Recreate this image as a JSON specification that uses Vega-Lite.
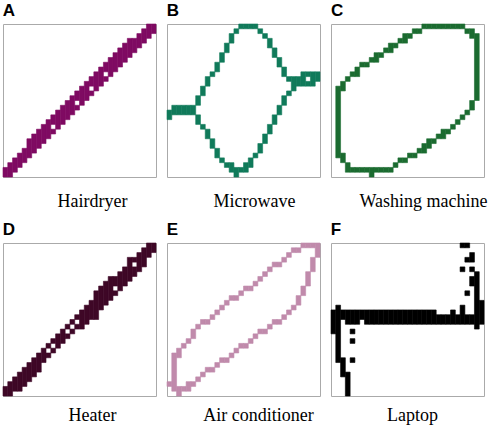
{
"$schema": "https://vega.github.io/schema/vega-lite/v6.json",
"padding": {"left": 2, "top": 1, "right": 0, "bottom": 0},
"bounds": "flush",
"columns": 3,
"spacing": {"row": 66, "column": 11},
"config": {"view": {"stroke": "#aaaaaa", "strokeWidth": 1}, "title": {"anchor": "start", "font": "Liberation Sans", "fontSize": 17, "fontWeight": "bold", "color": "black", "baseline": "alphabetic", "offset": 4}},
"datasets": {"cells": [
{"p":"A","c":0,"a":30,"b":32},{"p":"A","c":1,"a":29,"b":32},{"p":"A","c":2,"a":28,"b":31},{"p":"A","c":3,"a":27,"b":30},{"p":"A","c":4,"a":26,"b":29},{"p":"A","c":5,"a":24,"b":28},{"p":"A","c":6,"a":23,"b":27},{"p":"A","c":7,"a":22,"b":26},{"p":"A","c":8,"a":21,"b":25},{"p":"A","c":9,"a":20,"b":24},{"p":"A","c":10,"a":19,"b":21},{"p":"A","c":10,"a":22,"b":23},{"p":"A","c":11,"a":18,"b":22},{"p":"A","c":12,"a":17,"b":21},{"p":"A","c":13,"a":16,"b":20},{"p":"A","c":14,"a":15,"b":19},{"p":"A","c":15,"a":14,"b":16},{"p":"A","c":15,"a":17,"b":18},{"p":"A","c":16,"a":13,"b":17},{"p":"A","c":17,"a":12,"b":16},{"p":"A","c":18,"a":11,"b":13},{"p":"A","c":18,"a":14,"b":15},{"p":"A","c":19,"a":10,"b":14},{"p":"A","c":20,"a":9,"b":13},{"p":"A","c":21,"a":8,"b":10},{"p":"A","c":21,"a":11,"b":12},{"p":"A","c":22,"a":7,"b":11},{"p":"A","c":23,"a":6,"b":10},{"p":"A","c":24,"a":5,"b":9},{"p":"A","c":25,"a":4,"b":8},{"p":"A","c":26,"a":3,"b":7},{"p":"A","c":27,"a":3,"b":6},{"p":"A","c":28,"a":2,"b":5},{"p":"A","c":29,"a":1,"b":4},{"p":"A","c":30,"a":0,"b":3},{"p":"A","c":31,"a":0,"b":2},
{"p":"B","c":0,"a":18,"b":20},{"p":"B","c":1,"a":17,"b":19},{"p":"B","c":2,"a":17,"b":19},{"p":"B","c":3,"a":17,"b":19},{"p":"B","c":4,"a":17,"b":19},{"p":"B","c":5,"a":17,"b":19},{"p":"B","c":6,"a":15,"b":17},{"p":"B","c":6,"a":19,"b":21},{"p":"B","c":7,"a":13,"b":15},{"p":"B","c":7,"a":21,"b":22},{"p":"B","c":8,"a":11,"b":13},{"p":"B","c":8,"a":22,"b":24},{"p":"B","c":9,"a":10,"b":11},{"p":"B","c":9,"a":24,"b":26},{"p":"B","c":10,"a":8,"b":10},{"p":"B","c":10,"a":26,"b":28},{"p":"B","c":11,"a":6,"b":8},{"p":"B","c":11,"a":28,"b":29},{"p":"B","c":12,"a":4,"b":6},{"p":"B","c":12,"a":29,"b":30},{"p":"B","c":13,"a":2,"b":4},{"p":"B","c":13,"a":29,"b":31},{"p":"B","c":14,"a":1,"b":2},{"p":"B","c":14,"a":30,"b":32},{"p":"B","c":15,"a":0,"b":1},{"p":"B","c":15,"a":30,"b":31},{"p":"B","c":16,"a":0,"b":1},{"p":"B","c":16,"a":29,"b":31},{"p":"B","c":17,"a":0,"b":1},{"p":"B","c":17,"a":28,"b":30},{"p":"B","c":18,"a":0,"b":1},{"p":"B","c":18,"a":27,"b":28},{"p":"B","c":19,"a":1,"b":2},{"p":"B","c":19,"a":25,"b":27},{"p":"B","c":20,"a":2,"b":3},{"p":"B","c":20,"a":23,"b":25},{"p":"B","c":21,"a":3,"b":5},{"p":"B","c":21,"a":21,"b":23},{"p":"B","c":22,"a":5,"b":7},{"p":"B","c":22,"a":19,"b":21},{"p":"B","c":23,"a":7,"b":9},{"p":"B","c":23,"a":17,"b":19},{"p":"B","c":24,"a":9,"b":11},{"p":"B","c":24,"a":15,"b":17},{"p":"B","c":25,"a":11,"b":12},{"p":"B","c":25,"a":14,"b":15},{"p":"B","c":26,"a":11,"b":14},{"p":"B","c":27,"a":11,"b":13},{"p":"B","c":28,"a":10,"b":13},{"p":"B","c":29,"a":10,"b":11},{"p":"B","c":29,"a":12,"b":13},{"p":"B","c":30,"a":10,"b":13},{"p":"B","c":31,"a":10,"b":12},
{"p":"C","c":1,"a":13,"b":28},{"p":"C","c":2,"a":12,"b":14},{"p":"C","c":2,"a":27,"b":29},{"p":"C","c":3,"a":11,"b":12},{"p":"C","c":3,"a":29,"b":31},{"p":"C","c":4,"a":10,"b":11},{"p":"C","c":4,"a":30,"b":31},{"p":"C","c":5,"a":9,"b":11},{"p":"C","c":5,"a":30,"b":31},{"p":"C","c":6,"a":8,"b":9},{"p":"C","c":6,"a":30,"b":31},{"p":"C","c":7,"a":8,"b":9},{"p":"C","c":7,"a":30,"b":31},{"p":"C","c":8,"a":7,"b":8},{"p":"C","c":8,"a":30,"b":32},{"p":"C","c":9,"a":6,"b":8},{"p":"C","c":9,"a":30,"b":31},{"p":"C","c":10,"a":6,"b":7},{"p":"C","c":10,"a":30,"b":31},{"p":"C","c":11,"a":5,"b":6},{"p":"C","c":11,"a":30,"b":31},{"p":"C","c":12,"a":4,"b":6},{"p":"C","c":12,"a":30,"b":31},{"p":"C","c":13,"a":4,"b":5},{"p":"C","c":13,"a":29,"b":30},{"p":"C","c":14,"a":3,"b":4},{"p":"C","c":14,"a":28,"b":29},{"p":"C","c":15,"a":2,"b":4},{"p":"C","c":15,"a":28,"b":29},{"p":"C","c":16,"a":2,"b":3},{"p":"C","c":16,"a":27,"b":28},{"p":"C","c":17,"a":1,"b":2},{"p":"C","c":17,"a":27,"b":28},{"p":"C","c":18,"a":1,"b":2},{"p":"C","c":18,"a":26,"b":27},{"p":"C","c":19,"a":0,"b":1},{"p":"C","c":19,"a":25,"b":27},{"p":"C","c":20,"a":0,"b":1},{"p":"C","c":20,"a":24,"b":26},{"p":"C","c":21,"a":0,"b":1},{"p":"C","c":21,"a":24,"b":25},{"p":"C","c":22,"a":0,"b":1},{"p":"C","c":22,"a":23,"b":24},{"p":"C","c":23,"a":0,"b":1},{"p":"C","c":23,"a":22,"b":24},{"p":"C","c":24,"a":0,"b":1},{"p":"C","c":24,"a":22,"b":23},{"p":"C","c":25,"a":0,"b":1},{"p":"C","c":25,"a":21,"b":22},{"p":"C","c":26,"a":0,"b":1},{"p":"C","c":26,"a":20,"b":21},{"p":"C","c":27,"a":0,"b":1},{"p":"C","c":27,"a":19,"b":20},{"p":"C","c":28,"a":1,"b":2},{"p":"C","c":28,"a":18,"b":19},{"p":"C","c":29,"a":1,"b":3},{"p":"C","c":29,"a":16,"b":18},{"p":"C","c":30,"a":2,"b":16},
{"p":"D","c":0,"a":30,"b":32},{"p":"D","c":1,"a":29,"b":32},{"p":"D","c":2,"a":28,"b":31},{"p":"D","c":3,"a":27,"b":31},{"p":"D","c":4,"a":26,"b":30},{"p":"D","c":5,"a":25,"b":29},{"p":"D","c":6,"a":24,"b":28},{"p":"D","c":7,"a":23,"b":27},{"p":"D","c":8,"a":22,"b":25},{"p":"D","c":9,"a":21,"b":22},{"p":"D","c":9,"a":23,"b":24},{"p":"D","c":10,"a":20,"b":21},{"p":"D","c":10,"a":22,"b":23},{"p":"D","c":11,"a":19,"b":22},{"p":"D","c":12,"a":18,"b":21},{"p":"D","c":13,"a":17,"b":18},{"p":"D","c":13,"a":19,"b":20},{"p":"D","c":14,"a":16,"b":17},{"p":"D","c":14,"a":18,"b":19},{"p":"D","c":15,"a":15,"b":16},{"p":"D","c":15,"a":17,"b":18},{"p":"D","c":16,"a":14,"b":18},{"p":"D","c":17,"a":13,"b":17},{"p":"D","c":18,"a":12,"b":16},{"p":"D","c":19,"a":10,"b":16},{"p":"D","c":20,"a":9,"b":14},{"p":"D","c":21,"a":8,"b":13},{"p":"D","c":22,"a":7,"b":12},{"p":"D","c":23,"a":7,"b":9},{"p":"D","c":23,"a":10,"b":11},{"p":"D","c":24,"a":6,"b":10},{"p":"D","c":25,"a":5,"b":9},{"p":"D","c":26,"a":3,"b":8},{"p":"D","c":27,"a":3,"b":4},{"p":"D","c":27,"a":5,"b":7},{"p":"D","c":28,"a":2,"b":6},{"p":"D","c":29,"a":1,"b":5},{"p":"D","c":30,"a":0,"b":3},{"p":"D","c":31,"a":0,"b":2},
{"p":"E","c":0,"a":29,"b":30},{"p":"E","c":1,"a":23,"b":31},{"p":"E","c":2,"a":22,"b":24},{"p":"E","c":2,"a":30,"b":32},{"p":"E","c":3,"a":21,"b":22},{"p":"E","c":3,"a":30,"b":31},{"p":"E","c":4,"a":20,"b":21},{"p":"E","c":4,"a":29,"b":31},{"p":"E","c":5,"a":18,"b":20},{"p":"E","c":5,"a":29,"b":30},{"p":"E","c":6,"a":17,"b":18},{"p":"E","c":6,"a":28,"b":29},{"p":"E","c":7,"a":16,"b":17},{"p":"E","c":7,"a":27,"b":28},{"p":"E","c":8,"a":16,"b":17},{"p":"E","c":8,"a":26,"b":27},{"p":"E","c":9,"a":15,"b":16},{"p":"E","c":9,"a":26,"b":27},{"p":"E","c":10,"a":14,"b":15},{"p":"E","c":10,"a":25,"b":26},{"p":"E","c":11,"a":13,"b":14},{"p":"E","c":11,"a":24,"b":25},{"p":"E","c":12,"a":12,"b":13},{"p":"E","c":12,"a":24,"b":25},{"p":"E","c":13,"a":11,"b":12},{"p":"E","c":13,"a":23,"b":24},{"p":"E","c":14,"a":11,"b":12},{"p":"E","c":14,"a":22,"b":23},{"p":"E","c":15,"a":10,"b":11},{"p":"E","c":15,"a":21,"b":22},{"p":"E","c":16,"a":9,"b":10},{"p":"E","c":16,"a":21,"b":22},{"p":"E","c":17,"a":9,"b":10},{"p":"E","c":17,"a":20,"b":21},{"p":"E","c":18,"a":8,"b":9},{"p":"E","c":18,"a":19,"b":20},{"p":"E","c":19,"a":7,"b":8},{"p":"E","c":19,"a":18,"b":19},{"p":"E","c":20,"a":6,"b":7},{"p":"E","c":20,"a":18,"b":19},{"p":"E","c":21,"a":5,"b":6},{"p":"E","c":21,"a":17,"b":18},{"p":"E","c":22,"a":4,"b":5},{"p":"E","c":22,"a":16,"b":17},{"p":"E","c":23,"a":4,"b":5},{"p":"E","c":23,"a":16,"b":17},{"p":"E","c":24,"a":3,"b":4},{"p":"E","c":24,"a":15,"b":16},{"p":"E","c":25,"a":2,"b":3},{"p":"E","c":25,"a":14,"b":15},{"p":"E","c":26,"a":1,"b":2},{"p":"E","c":26,"a":13,"b":14},{"p":"E","c":27,"a":1,"b":2},{"p":"E","c":27,"a":11,"b":13},{"p":"E","c":28,"a":0,"b":1},{"p":"E","c":28,"a":9,"b":11},{"p":"E","c":29,"a":0,"b":1},{"p":"E","c":29,"a":6,"b":9},{"p":"E","c":30,"a":0,"b":1},{"p":"E","c":30,"a":3,"b":6},{"p":"E","c":31,"a":0,"b":3},
{"p":"F","c":0,"a":14,"b":19},{"p":"F","c":1,"a":13,"b":25},{"p":"F","c":2,"a":14,"b":16},{"p":"F","c":2,"a":24,"b":28},{"p":"F","c":3,"a":14,"b":17},{"p":"F","c":3,"a":27,"b":32},{"p":"F","c":4,"a":14,"b":17},{"p":"F","c":4,"a":18,"b":19},{"p":"F","c":4,"a":20,"b":21},{"p":"F","c":4,"a":24,"b":25},{"p":"F","c":5,"a":14,"b":17},{"p":"F","c":6,"a":14,"b":16},{"p":"F","c":7,"a":14,"b":17},{"p":"F","c":8,"a":14,"b":17},{"p":"F","c":9,"a":14,"b":17},{"p":"F","c":10,"a":14,"b":17},{"p":"F","c":11,"a":14,"b":17},{"p":"F","c":12,"a":14,"b":17},{"p":"F","c":13,"a":14,"b":17},{"p":"F","c":14,"a":14,"b":17},{"p":"F","c":15,"a":14,"b":17},{"p":"F","c":16,"a":14,"b":17},{"p":"F","c":17,"a":14,"b":17},{"p":"F","c":18,"a":14,"b":17},{"p":"F","c":19,"a":14,"b":17},{"p":"F","c":20,"a":14,"b":17},{"p":"F","c":21,"a":14,"b":17},{"p":"F","c":22,"a":15,"b":17},{"p":"F","c":23,"a":15,"b":17},{"p":"F","c":24,"a":15,"b":17},{"p":"F","c":25,"a":14,"b":17},{"p":"F","c":26,"a":15,"b":17},{"p":"F","c":27,"a":0,"b":1},{"p":"F","c":27,"a":5,"b":6},{"p":"F","c":27,"a":13,"b":17},{"p":"F","c":28,"a":0,"b":1},{"p":"F","c":28,"a":3,"b":4},{"p":"F","c":28,"a":10,"b":11},{"p":"F","c":28,"a":15,"b":17},{"p":"F","c":29,"a":2,"b":4},{"p":"F","c":29,"a":5,"b":6},{"p":"F","c":29,"a":7,"b":9},{"p":"F","c":29,"a":15,"b":17},{"p":"F","c":30,"a":6,"b":18},{"p":"F","c":31,"a":12,"b":17}
]},
"concat": [
{"title": "A", "width": 153, "height": 153, "data": {"name": "cells"}, "transform": [{"filter": "datum.p === 'A'"}], "mark": {"type": "rect", "color": "#7f0a62", "stroke": "#7f0a62", "strokeWidth": 0.6},
 "encoding": {"x": {"field": "c", "type": "ordinal", "scale": {"domain": [0,1,2,3,4,5,6,7,8,9,10,11,12,13,14,15,16,17,18,19,20,21,22,23,24,25,26,27,28,29,30,31], "paddingInner": 0, "paddingOuter": 0}, "axis": {"domain": false, "ticks": false, "labels": false, "title": "Hairdryer", "titleFont": "Liberation Serif", "titleFontSize": 18, "titleFontWeight": "normal", "titleColor": "black", "titleX": 89, "titleY": 29, "titleBaseline": "alphabetic", "titleAlign": "center"}},
  "y": {"field": "a", "type": "quantitative", "scale": {"domain": [0, 32], "reverse": true, "nice": false, "zero": false}, "axis": null}, "y2": {"field": "b"}}},
{"title": "B", "width": 153, "height": 153, "data": {"name": "cells"}, "transform": [{"filter": "datum.p === 'B'"}], "mark": {"type": "rect", "color": "#107a5a", "stroke": "#107a5a", "strokeWidth": 0.6},
 "encoding": {"x": {"field": "c", "type": "ordinal", "scale": {"domain": [0,1,2,3,4,5,6,7,8,9,10,11,12,13,14,15,16,17,18,19,20,21,22,23,24,25,26,27,28,29,30,31], "paddingInner": 0, "paddingOuter": 0}, "axis": {"domain": false, "ticks": false, "labels": false, "title": "Microwave", "titleFont": "Liberation Serif", "titleFontSize": 18, "titleFontWeight": "normal", "titleColor": "black", "titleX": 87, "titleY": 29, "titleBaseline": "alphabetic", "titleAlign": "center"}},
  "y": {"field": "a", "type": "quantitative", "scale": {"domain": [0, 32], "reverse": true, "nice": false, "zero": false}, "axis": null}, "y2": {"field": "b"}}},
{"title": "C", "width": 153, "height": 153, "data": {"name": "cells"}, "transform": [{"filter": "datum.p === 'C'"}], "mark": {"type": "rect", "color": "#1b6b30", "stroke": "#1b6b30", "strokeWidth": 0.6},
 "encoding": {"x": {"field": "c", "type": "ordinal", "scale": {"domain": [0,1,2,3,4,5,6,7,8,9,10,11,12,13,14,15,16,17,18,19,20,21,22,23,24,25,26,27,28,29,30,31], "paddingInner": 0, "paddingOuter": 0}, "axis": {"domain": false, "ticks": false, "labels": false, "title": "Washing machine", "titleFont": "Liberation Serif", "titleFontSize": 18, "titleFontWeight": "normal", "titleColor": "black", "titleX": 92, "titleY": 29, "titleBaseline": "alphabetic", "titleAlign": "center"}},
  "y": {"field": "a", "type": "quantitative", "scale": {"domain": [0, 32], "reverse": true, "nice": false, "zero": false}, "axis": null}, "y2": {"field": "b"}}},
{"title": "D", "width": 153, "height": 153, "data": {"name": "cells"}, "transform": [{"filter": "datum.p === 'D'"}], "mark": {"type": "rect", "color": "#3e0726", "stroke": "#3e0726", "strokeWidth": 0.6},
 "encoding": {"x": {"field": "c", "type": "ordinal", "scale": {"domain": [0,1,2,3,4,5,6,7,8,9,10,11,12,13,14,15,16,17,18,19,20,21,22,23,24,25,26,27,28,29,30,31], "paddingInner": 0, "paddingOuter": 0}, "axis": {"domain": false, "ticks": false, "labels": false, "title": "Heater", "titleFont": "Liberation Serif", "titleFontSize": 18, "titleFontWeight": "normal", "titleColor": "black", "titleX": 89, "titleY": 24, "titleBaseline": "alphabetic", "titleAlign": "center"}},
  "y": {"field": "a", "type": "quantitative", "scale": {"domain": [0, 32], "reverse": true, "nice": false, "zero": false}, "axis": null}, "y2": {"field": "b"}}},
{"title": "E", "width": 153, "height": 153, "data": {"name": "cells"}, "transform": [{"filter": "datum.p === 'E'"}], "mark": {"type": "rect", "color": "#c08aab", "stroke": "#c08aab", "strokeWidth": 0.6},
 "encoding": {"x": {"field": "c", "type": "ordinal", "scale": {"domain": [0,1,2,3,4,5,6,7,8,9,10,11,12,13,14,15,16,17,18,19,20,21,22,23,24,25,26,27,28,29,30,31], "paddingInner": 0, "paddingOuter": 0}, "axis": {"domain": false, "ticks": false, "labels": false, "title": "Air conditioner", "titleFont": "Liberation Serif", "titleFontSize": 18, "titleFontWeight": "normal", "titleColor": "black", "titleX": 91, "titleY": 24, "titleBaseline": "alphabetic", "titleAlign": "center"}},
  "y": {"field": "a", "type": "quantitative", "scale": {"domain": [0, 32], "reverse": true, "nice": false, "zero": false}, "axis": null}, "y2": {"field": "b"}}},
{"title": "F", "width": 153, "height": 153, "data": {"name": "cells"}, "transform": [{"filter": "datum.p === 'F'"}], "mark": {"type": "rect", "color": "#000000", "stroke": "#000000", "strokeWidth": 0.6},
 "encoding": {"x": {"field": "c", "type": "ordinal", "scale": {"domain": [0,1,2,3,4,5,6,7,8,9,10,11,12,13,14,15,16,17,18,19,20,21,22,23,24,25,26,27,28,29,30,31], "paddingInner": 0, "paddingOuter": 0}, "axis": {"domain": false, "ticks": false, "labels": false, "title": "Laptop", "titleFont": "Liberation Serif", "titleFontSize": 18, "titleFontWeight": "normal", "titleColor": "black", "titleX": 81, "titleY": 24, "titleBaseline": "alphabetic", "titleAlign": "center"}},
  "y": {"field": "a", "type": "quantitative", "scale": {"domain": [0, 32], "reverse": true, "nice": false, "zero": false}, "axis": null}, "y2": {"field": "b"}}}
]
}
